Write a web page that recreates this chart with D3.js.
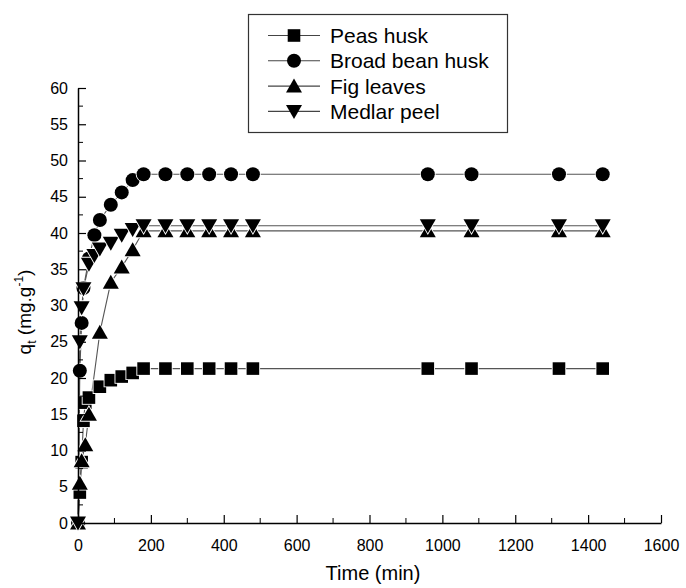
<!DOCTYPE html>
<html><head><meta charset="utf-8">
<script src="https://cdn.jsdelivr.net/npm/d3@7/dist/d3.min.js"></script>
<style>body{margin:0;background:#fff}svg{display:block}text{font-family:"Liberation Sans",Arial,sans-serif;fill:#000}</style>
</head><body><div id="chart"></div>
<script>
const seriesNames = ["Peas husk", "Broad bean husk", "Fig leaves", "Medlar peel"];
const peasTime  = [0,5,10,15,20,30,60,90,120,150,180,240,300,360,420,480,960,1080,1320,1440];
const peasQ     = [0,4.2,8.4,14.1,16.6,17.3,18.8,19.7,20.2,20.7,21.3,21.3,21.3,21.3,21.3,21.3,21.3,21.3,21.3,21.3];
const beanTime  = [0,5,10,15,30,45,60,90,120,150,180,240,300,360,420,480,960,1080,1320,1440];
const beanQ     = [0,21.0,27.6,32.4,36.5,39.7,41.8,43.9,45.6,47.3,48.1,48.1,48.1,48.1,48.1,48.1,48.1,48.1,48.1,48.1];
const figTime   = [0,5,10,20,30,60,90,120,150,180,240,300,360,420,480,960,1080,1320,1440];
const figQ      = [0,5.5,8.6,10.8,15.0,26.3,33.2,35.3,37.7,40.3,40.3,40.3,40.3,40.3,40.3,40.3,40.3,40.3,40.3];
const medTime   = [0,5,10,15,30,45,60,90,120,150,180,240,300,360,420,480,960,1080,1320,1440];
const medQ      = [0,25.0,29.7,32.3,35.7,36.9,37.8,38.6,39.7,40.5,41.0,41.0,41.0,41.0,41.0,41.0,41.0,41.0,41.0,41.0];
const xTicks = [0,200,400,600,800,1000,1200,1400,1600];
const yTicks = [0,5,10,15,20,25,30,35,40,45,50,55,60];

const W = 686, H = 588;
const svg = d3.select("#chart").append("svg").attr("width", W).attr("height", H);
const x = d3.scaleLinear().domain([0,1600]).range([78,661]);
const y = d3.scaleLinear().domain([0,60]).range([523,88]);

const shapes = {
  square: "M-6.3,-6.3H6.3V6.3H-6.3Z",
  circle: "M7,0A7,7 0 1,1 -7,0A7,7 0 1,1 7,0Z",
  up: "M0,-7.5L8,6.5L-8,6.5Z",
  down: "M0,7.5L8,-6.5L-8,-6.5Z"
};
const series = [
  {name: seriesNames[0], t: peasTime, q: peasQ, shape: "square"},
  {name: seriesNames[1], t: beanTime, q: beanQ, shape: "circle"},
  {name: seriesNames[2], t: figTime, q: figQ, shape: "up"},
  {name: seriesNames[3], t: medTime, q: medQ, shape: "down"}
];

const line = d3.line().x(d => x(d[0])).y(d => y(d[1]));
series.forEach(s => {
  const pts = s.t.map((t,i) => [t, s.q[i]]);
  svg.append("path").attr("d", line(pts)).attr("fill","none").attr("stroke","#555").attr("stroke-width",1.1);
});
series.forEach(s => {
  const pts = s.t.map((t,i) => [t, s.q[i]]);
  svg.append("g").selectAll("path").data(pts).join("path")
    .attr("d", shapes[s.shape])
    .attr("transform", d => `translate(${x(d[0])},${y(d[1])})`)
    .attr("fill","#000").attr("stroke","#fff").attr("stroke-width",1.8).attr("paint-order","stroke");
});

const xAxis = d3.axisBottom(x).tickValues(xTicks).tickSizeInner(-8).tickSizeOuter(0).tickPadding(17).tickFormat(d3.format("d"));
const gx = svg.append("g").attr("transform","translate(0,523)").call(xAxis);
gx.selectAll("text").attr("font-size","16px").attr("font-family","Liberation Sans, Arial, sans-serif");
const xMinor = d3.range(100,1600,200);
gx.selectAll(".minor").data(xMinor).join("line").attr("class","minor")
  .attr("x1",d=>x(d)).attr("x2",d=>x(d)).attr("y1",0).attr("y2",-5).attr("stroke","#000");

const yAxis = d3.axisLeft(y).tickValues(yTicks).tickSizeInner(-8).tickSizeOuter(0).tickPadding(10);
const gy = svg.append("g").attr("transform","translate(78,0)").call(yAxis);
gy.selectAll("text").attr("font-size","16px").attr("font-family","Liberation Sans, Arial, sans-serif");
const yMinor = d3.range(2.5,60,5);
gy.selectAll(".minor").data(yMinor).join("line").attr("class","minor")
  .attr("x1",0).attr("x2",5).attr("y1",d=>y(d)).attr("y2",d=>y(d)).attr("stroke","#000");
[gx, gy].forEach(g => { g.select(".domain").attr("stroke","#000").attr("stroke-width",1.5); g.selectAll(".tick line").attr("stroke","#000").attr("stroke-width",1.2); });

svg.append("text").attr("x",373).attr("y",580).attr("text-anchor","middle").attr("font-size","20px").text("Time (min)");
const yl = svg.append("text").attr("transform","translate(31,312) rotate(-90)").attr("text-anchor","middle").attr("font-size","19px");
yl.append("tspan").text("q");
yl.append("tspan").attr("font-size","12px").attr("dy",5).text("t");
yl.append("tspan").attr("dy",-5).text(" (mg.g");
yl.append("tspan").attr("font-size","12px").attr("dy",-8).text("-1");
yl.append("tspan").attr("dy",8).text(")");

const lg = svg.append("g");
lg.append("rect").attr("x",248.5).attr("y",14.5).attr("width",259).attr("height",118).attr("fill","#fff").attr("stroke","#333").attr("stroke-width",1.2);
series.forEach((s,i) => {
  const cy = 35.5 + i*25.3;
  lg.append("line").attr("x1",268).attr("x2",320).attr("y1",cy).attr("y2",cy).attr("stroke","#444").attr("stroke-width",1.1);
  lg.append("path").attr("d",shapes[s.shape]).attr("transform",`translate(294,${cy})`).attr("fill","#000");
  lg.append("text").attr("x",330).attr("y",cy+7.5).attr("font-size","21px").text(s.name);
});
</script></body></html>
